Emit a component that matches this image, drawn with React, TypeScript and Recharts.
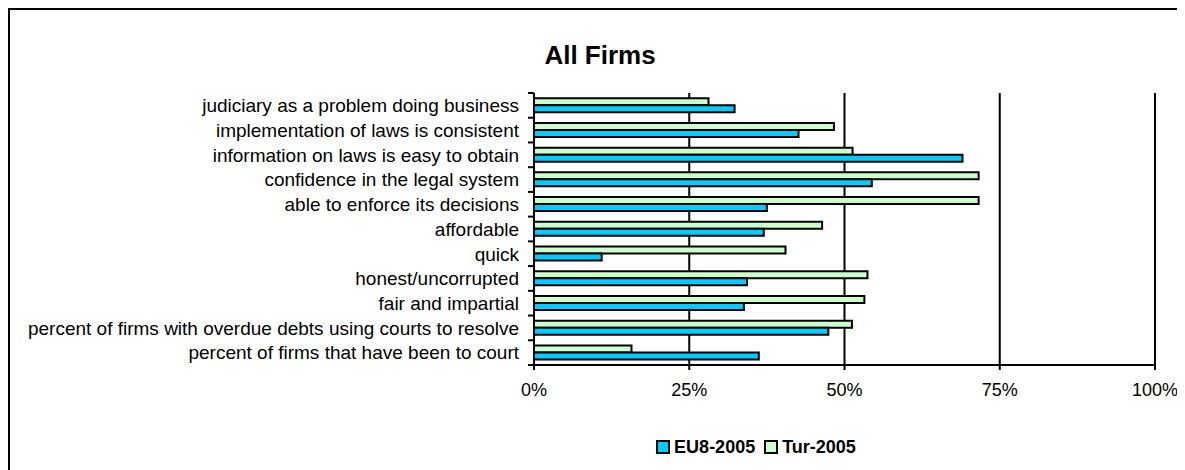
import { BarChart, Bar, XAxis, YAxis, CartesianGrid } from "recharts";

const categories = [
  "judiciary as a problem doing business",
  "implementation of laws is consistent",
  "information on laws is easy to obtain",
  "confidence in the legal system",
  "able to enforce its decisions",
  "affordable",
  "quick",
  "honest/uncorrupted",
  "fair and impartial",
  "percent of firms with overdue debts using courts to resolve",
  "percent of firms that have been to court",
];
const eu8 = [32.3, 42.6, 69.0, 54.4, 37.5, 37.0, 10.9, 34.3, 33.8, 47.4, 36.2];
const tur = [28.1, 48.3, 51.3, 71.6, 71.6, 46.4, 40.5, 53.7, 53.2, 51.2, 15.7];
const xTicks = [0, 25, 50, 75, 100];

const seriesList = [
  { key: "eu8", name: "EU8-2005", color: "#00CCFF" },
  { key: "tur", name: "Tur-2005", color: "#CCFFCC" },
];

const data = categories.map((c, i) => ({ cat: c, eu8: eu8[i], tur: tur[i] }));

const FONT = '"Liberation Sans", Arial, Helvetica, sans-serif';
const W = 1175;
const H = 460;
const Y_W = 524;
const TICK = 6;
const TICK_MARGIN = 9;
const PLOT_H = 272;

// category tick: label centred on the band, tick marks on band edges (Excel style)
function CatTick(props: any) {
  const { x, y, payload, index, visibleTicksCount } = props;
  const axisX = x + TICK + TICK_MARGIN;
  const half = payload.offset || PLOT_H / categories.length / 2;
  return (
    <g>
      <line x1={axisX - TICK} x2={axisX} y1={y - half} y2={y - half} stroke="#000" strokeWidth={2} />
      {index === visibleTicksCount - 1 && (
        <line x1={axisX - TICK} x2={axisX} y1={y + half} y2={y + half} stroke="#000" strokeWidth={2} />
      )}
      <text x={x} y={y} dy="0.36em" textAnchor="end" fontSize={19} fill="#000" fontFamily={FONT}>
        {payload.value}
      </text>
    </g>
  );
}

export default function App() {
  return (
    <div
      style={{
        position: "relative",
        width: 1240,
        height: 500,
        borderTop: "2px solid #000",
        borderLeft: "2px solid #000",
        boxSizing: "border-box",
        fontFamily: FONT,
        background: "#fff",
      }}
    >
      <style>{`html,body{overflow:hidden}`}</style>
      <div
        style={{
          position: "absolute",
          left: 390,
          width: 400,
          top: 32,
          textAlign: "center",
          fontSize: 26,
          lineHeight: "26px",
          fontWeight: "bold",
        }}
      >
        All Firms
      </div>
      <BarChart
        width={W}
        height={H}
        data={data}
        layout="vertical"
        margin={{ top: 83, right: 30, left: 0, bottom: 75 }}
        barCategoryGap="21%"
        barGap={0}
      >
        <CartesianGrid horizontal={false} stroke="#000" strokeWidth={2} />
        <XAxis
          type="number"
          domain={[0, 100]}
          ticks={xTicks}
          tickFormatter={(v) => v + "%"}
          axisLine={{ stroke: "#000", strokeWidth: 2 }}
          tickLine={{ stroke: "#000", strokeWidth: 2 }}
          tickSize={5}
          tickMargin={13}
          height={30}
          tick={{ fill: "#000", fontSize: 18, fontFamily: FONT }}
          interval={0}
        />
        <YAxis
          type="category"
          dataKey="cat"
          width={Y_W}
          axisLine={{ stroke: "#000", strokeWidth: 2 }}
          tickLine={false}
          tickSize={TICK}
          tickMargin={TICK_MARGIN}
          tick={<CatTick />}
          interval={0}
        />
        <Bar dataKey="tur" name="Tur-2005" fill="#CCFFCC" stroke="#000" strokeWidth={2} isAnimationActive={false} />
        <Bar dataKey="eu8" name="EU8-2005" fill="#00CCFF" stroke="#000" strokeWidth={2} isAnimationActive={false} />
      </BarChart>
      <div
        style={{
          position: "absolute",
          left: 636,
          width: 220,
          top: 428,
          display: "flex",
          justifyContent: "center",
          alignItems: "center",
          fontSize: 18,
          lineHeight: "18px",
          fontWeight: "bold",
        }}
      >
        {seriesList.map((s, i) => (
          <div key={s.key} style={{ display: "flex", alignItems: "center", marginLeft: i ? 9 : 0 }}>
            <span
              style={{
                display: "inline-block",
                width: 10,
                height: 10,
                background: s.color,
                border: "2px solid #000",
                marginRight: 4,
              }}
            />
            {s.name}
          </div>
        ))}
      </div>
    </div>
  );
}
